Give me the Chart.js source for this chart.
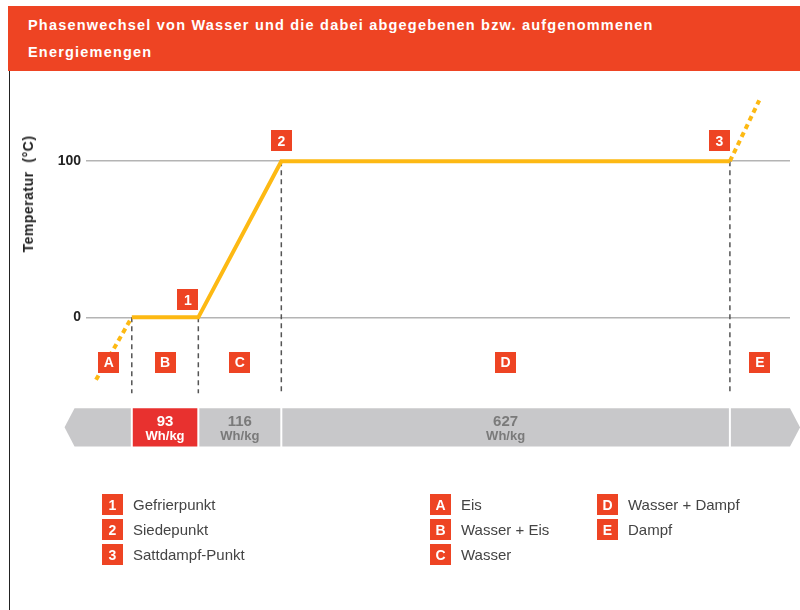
<!DOCTYPE html>
<html lang="de">
<head>
<meta charset="utf-8">
<title>Phasenwechsel von Wasser</title>
<script src="https://cdn.jsdelivr.net/npm/chart.js@4/dist/chart.umd.min.js"></script>
<style>
  html, body { margin: 0; padding: 0; background: #fff; }
  body { width: 800px; height: 610px; position: relative; overflow: hidden; font-family: "Liberation Sans", Arial, sans-serif; }
  .header { position: absolute; left: 8px; top: 6px; width: 800px; height: 65px; background: #EE4423; z-index: 2; }
  .header h1 { margin: 0; position: absolute; left: 20px; top: 6.4px; color: #fff; font-weight: bold; font-size: 14.5px; line-height: 26.5px;
    letter-spacing: 1.2px; font-family: "Liberation Sans", Arial, sans-serif; white-space: nowrap; }
  .frame { position: absolute; left: 8.5px; top: 71px; width: 1.5px; height: 540px; background: #222; }
  .chart-box { position: absolute; left: 0; top: 0; width: 800px; height: 610px; }
  .ytitle { position: absolute; left: 28px; top: 193.5px; transform: translate(-50%, -50%) rotate(-90deg);
    font-weight: bold; font-size: 14px; letter-spacing: 0.5px; white-space: pre; color: #222; }
  .legend-col { position: absolute; top: 492px; }
  .legend-row { height: 25px; display: flex; align-items: center; font-size: 15px; color: #444; white-space: nowrap; }
  .tag { width: 21px; height: 21px; background: #EE4423; color: #fff; font-weight: bold; font-size: 14px;
    display: flex; align-items: center; justify-content: center; margin-right: 10px; }
</style>
</head>
<body>
<div class="header"><h1>Phasenwechsel von Wasser und die dabei abgegebenen bzw. aufgenommenen<br>Energiemengen</h1></div>
<div class="frame"></div>
<div class="chart-box"><canvas id="phase"></canvas></div>
<div class="ytitle">Temperatur  (°C)</div>
<div class="legend-col" id="legend1" style="left:102px"></div>
<div class="legend-col" id="legend2" style="left:430px"></div>
<div class="legend-col" id="legend3" style="left:597px"></div>
<script>
// Daten
const pointLabels = ['1', '2', '3'];
const pointNames = ['Gefrierpunkt', 'Siedepunkt', 'Sattdampf-Punkt'];
const phaseLetters = ['A', 'B', 'C', 'D', 'E'];
const phaseNames = ['Eis', 'Wasser + Eis', 'Wasser', 'Wasser + Dampf', 'Dampf'];
const energies = [93, 116, 627];          // Wh/kg for B, C, D
const curveTemps = [0, 0, 100, 100];      // °C at the phase boundaries
const iceEnergy = [-50, 0];
const iceTemp = [-40, 0];
const steamEnergy = [836, 877];
const steamTemp = [100, 139];
const tempTicks = [0, 100];

// phase boundaries on the energy axis
const boundaries = [0];
energies.forEach(e => boundaries.push(boundaries[boundaries.length - 1] + e));

const YELLOW = '#FDB913';
const RED = '#EE4423';

// legend
function legendRow(label, name) {
  return '<div class="legend-row"><div class="tag">' + label + '</div>' + name + '</div>';
}
document.getElementById('legend1').innerHTML = pointLabels.map((l, i) => legendRow(l, pointNames[i])).join('');
document.getElementById('legend2').innerHTML = phaseLetters.slice(0, 3).map((l, i) => legendRow(l, phaseNames[i])).join('');
document.getElementById('legend3').innerHTML = phaseLetters.slice(3).map((l, i) => legendRow(l, phaseNames[i + 3])).join('');

const bandTop = -58.3, bandBottom = -82.7, bandStart = -94, bandEnd = 934;
const dashBottom = -48.7;

function drawTag(ctx, cx, cy, text) {
  ctx.fillStyle = RED;
  ctx.fillRect(Math.round(cx - 10.5), Math.round(cy - 10.5), 21, 21);
  ctx.fillStyle = '#fff';
  ctx.font = 'bold 14px "Liberation Sans", Arial, sans-serif';
  ctx.textAlign = 'center';
  ctx.textBaseline = 'middle';
  ctx.fillText(text, cx, cy + 1);
}

const markerPlugin = {
  id: 'markers',
  afterDatasetsDraw(chart) {
    const { ctx, scales: { x, y } } = chart;
    ctx.save();
    // 1, 2, 3 on the curve
    const offsets = [[-10.5, -17.5], [0, -20.5], [-10.5, -20.5]];
    pointLabels.forEach((l, i) => {
      const px = x.getPixelForValue(boundaries[i + 1]);
      const py = y.getPixelForValue(curveTemps[i + 1]);
      drawTag(ctx, px + offsets[i][0], py + offsets[i][1], l);
    });
    // A..E between the boundaries
    const edges = [x.min].concat(boundaries, [x.max]);
    const ly = y.getPixelForValue(0) + 45;
    phaseLetters.forEach((l, i) => {
      const cx = (x.getPixelForValue(edges[i]) + x.getPixelForValue(edges[i + 1])) / 2;
      drawTag(ctx, cx, ly, l);
    });

    // energy band
    const top = y.getPixelForValue(bandTop);
    const bot = y.getPixelForValue(bandBottom);
    const mid = (top + bot) / 2;
    const segEdges = [bandStart].concat(boundaries, [bandEnd]);
    const colors = ['#C8C8CA', '#E8312F', '#C8C8CA', '#C8C8CA', '#C8C8CA'];
    for (let i = 0; i < segEdges.length - 1; i++) {
      let x0 = x.getPixelForValue(segEdges[i]);
      let x1 = x.getPixelForValue(segEdges[i + 1]);
      ctx.fillStyle = colors[i];
      ctx.beginPath();
      if (i === 0) {
        ctx.moveTo(x0, mid); ctx.lineTo(x0 + 10, top); ctx.lineTo(x1 - 1, top);
        ctx.lineTo(x1 - 1, bot); ctx.lineTo(x0 + 10, bot);
      } else if (i === segEdges.length - 2) {
        ctx.moveTo(x0 + 1, top); ctx.lineTo(x1 - 10, top); ctx.lineTo(x1, mid);
        ctx.lineTo(x1 - 10, bot); ctx.lineTo(x0 + 1, bot);
      } else {
        ctx.rect(x0 + 1, top, x1 - x0 - 2, bot - top);
      }
      ctx.closePath();
      ctx.fill();
    }
    energies.forEach((e, i) => {
      const cx = (x.getPixelForValue(boundaries[i]) + x.getPixelForValue(boundaries[i + 1])) / 2;
      ctx.fillStyle = i === 0 ? '#fff' : '#7a7a7a';
      ctx.textAlign = 'center';
      ctx.textBaseline = 'middle';
      ctx.font = 'bold 15px "Liberation Sans", Arial, sans-serif';
      ctx.fillText(String(e), cx, mid - 6);
      ctx.font = 'bold 13px "Liberation Sans", Arial, sans-serif';
      ctx.fillText('Wh/kg', cx, mid + 9.5);
    });
    ctx.restore();
  }
};

const curve = boundaries.map((b, i) => ({ x: b, y: curveTemps[i] }));
const dashed = boundaries.map((b, i) => ({
  data: [{ x: b, y: curveTemps[i] }, { x: b, y: dashBottom }],
  borderColor: '#555',
  borderWidth: 1.5,
  borderDash: [5, 4],
  pointRadius: 0
}));

const config = {
  type: 'line',
  data: {
    datasets: [
      { data: curve, borderColor: YELLOW, borderWidth: 4, pointRadius: 0, borderJoinStyle: 'miter' },
      { data: iceEnergy.map((e, i) => ({ x: e, y: iceTemp[i] })), borderColor: YELLOW, borderWidth: 4, borderDash: [5, 4], pointRadius: 0 },
      { data: steamEnergy.map((e, i) => ({ x: e, y: steamTemp[i] })), borderColor: YELLOW, borderWidth: 4, borderDash: [5, 4], pointRadius: 0 }
    ].concat(dashed)
  },
  options: {
    responsive: true,
    maintainAspectRatio: false,
    animation: false,
    events: [],
    layout: { padding: { left: 0, right: 10, top: 91, bottom: 160 } },
    plugins: { legend: { display: false }, tooltip: { enabled: false } },
    scales: {
      x: { type: 'linear', min: -64, max: 920, display: false },
      y: {
        min: -85,
        max: 145,
        afterBuildTicks: scale => { scale.ticks = tempTicks.map(v => ({ value: v })); },
        afterFit: scale => { scale.width = 86; },
        border: { display: false },
        grid: { color: '#b4b4b4', lineWidth: 1.5, drawTicks: false },
        ticks: { padding: 5, color: '#222', font: { family: '"Liberation Sans", Arial, sans-serif', size: 14, weight: 'bold' } }
      }
    }
  },
  plugins: [markerPlugin]
};

new Chart(document.getElementById('phase'), config);
</script>
</body>
</html>
